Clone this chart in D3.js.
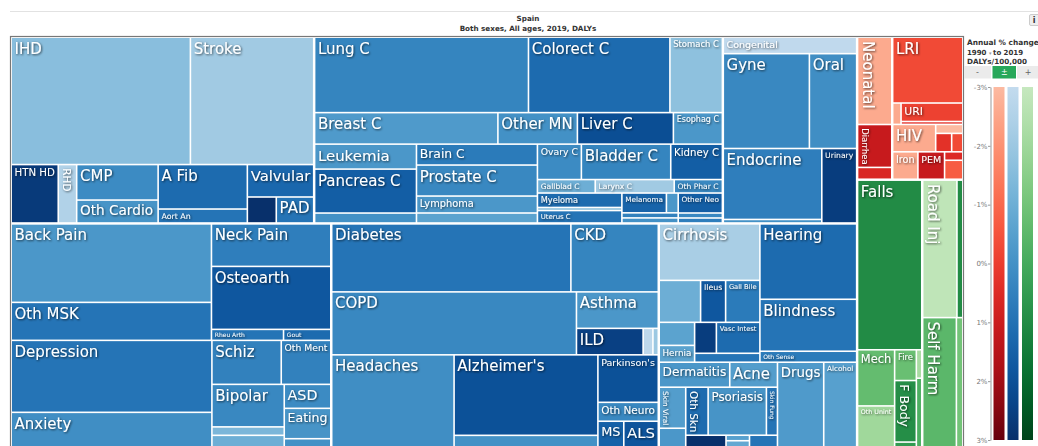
<!DOCTYPE html>
<html>
<head>
<meta charset="utf-8">
<script src="https://cdn.jsdelivr.net/npm/d3@7"></script>
<style>
body { margin: 0; background: #fff; font-family: "DejaVu Sans", Verdana, sans-serif; }
</style>
</head>
<body>
<svg id="chart" width="1038" height="446"></svg>
<script>
// layout groups of the treemap (each group splits its children one way, alternating by depth)
const groupIds = [
  "NCD", "CI", "ncdTop", "ncdBottom",
  "Cardio", "cvRow1", "cvRow2", "cvColCMP", "cvColAFib", "cvColValv", "cvValvRow",
  "Neoplasms", "neoRow1", "neoRow2", "neoRow3", "neoColA", "neoColB", "neoColC",
  "neoRowC1", "neoRowC2", "neoRowC3", "neoColMy", "neoColMel", "neoMelRow", "neoColON",
  "OtherNCD", "othRowGO", "othRowEU", "othColE",
  "ncdCol1", "ncdCol2", "ncdCol3",
  "MSK", "mskColBP", "mskColNO", "mskRowRG",
  "Mental", "mntColDA", "mntCol2", "mntRowSO", "mntRowB", "mntColBi", "mntColAE",
  "DiabKid", "ChronResp", "respColA", "respRowILD",
  "Neuro", "neuColAlz", "neuColP", "neuRowMA",
  "ncdRowDS", "Digestive", "digRow1", "digRow2", "digColH", "digColV", "digRowV", "Sense",
  "ncdRowSS", "Skin", "skinRow1", "skinRow2", "skinColSV", "skinColR", "skinRowOPS", "skinRowSm", "skinColPair",
  "Substance", "subRow",
  "Comm", "commCol1", "commCol2", "commRowURI", "commColU", "commRowHIV", "commColS", "commRowS", "commRowIron", "commColR",
  "Injuries", "injCol1", "injRowB", "injColMech", "injColFire", "injColT", "injCol2", "injRowRoad", "injRowSelf"
];
const groupParents = [
  "root", "root", "NCD", "NCD",
  "ncdTop", "Cardio", "Cardio", "cvRow2", "cvRow2", "cvRow2", "cvColValv",
  "ncdTop", "Neoplasms", "Neoplasms", "Neoplasms", "neoRow3", "neoRow3", "neoRow3",
  "neoColC", "neoColC", "neoColC", "neoRowC3", "neoRowC3", "neoColMel", "neoRowC3",
  "ncdTop", "OtherNCD", "OtherNCD", "othRowEU",
  "ncdBottom", "ncdBottom", "ncdBottom",
  "ncdCol1", "MSK", "MSK", "mskColNO",
  "ncdCol1", "Mental", "Mental", "mntCol2", "mntCol2", "mntRowB", "mntRowB",
  "ncdCol2", "ncdCol2", "ChronResp", "respColA",
  "ncdCol2", "Neuro", "Neuro", "neuColP",
  "ncdCol3", "ncdRowDS", "Digestive", "Digestive", "digRow2", "digRow2", "digColV", "ncdRowDS",
  "ncdCol3", "ncdRowSS", "Skin", "Skin", "skinRow2", "skinRow2", "skinColR", "skinColR", "skinRowSm",
  "ncdRowSS", "Substance",
  "CI", "Comm", "Comm", "commCol2", "commRowURI", "commCol2", "commRowHIV", "commColS", "commCol2", "commRowIron",
  "CI", "Injuries", "injCol1", "injRowB", "injRowB", "injRowB", "Injuries", "injCol2", "injCol2"
];

// causes, in layout order
const causes = [
  "IHD", "Stroke", "HTN HD", "RHD", "CMP", "Oth Cardio", "A Fib", "Aort An", "Valvular", "Endocarditis", "PAD",
  "Lung C", "Colorect C", "Stomach C", "Breast C", "Other MN", "Liver C", "Esophag C",
  "Leukemia", "Pancreas C", "Thyroid C", "Brain C", "Prostate C", "Lymphoma", "Hodgkin",
  "Ovary C", "Bladder C", "Kidney C", "Gallblad C", "Larynx C", "Oth Phar C",
  "Myeloma", "Testis C", "Uterus C", "Melanoma", "Mesothelioma", "NMSC", "Nasophar C", "Other Neo", "Eye C", "Bone C",
  "Congenital", "Gyne", "Oral", "Endocrine", "Hemoglob", "Urinary",
  "Back Pain", "Oth MSK", "Neck Pain", "Osteoarth", "Rheu Arth", "Gout",
  "Depression", "Anxiety", "Schiz", "Oth Ment", "Bipolar", "ADHD", "Conduct", "ASD", "Eating", "Idiop ID",
  "Diabetes", "CKD", "COPD", "Asthma", "ILD", "Pneumocon", "Oth Resp",
  "Headaches", "Alzheimer's", "Epilepsy", "Parkinson's", "Oth Neuro", "MS", "ALS",
  "Cirrhosis", "Pancreatitis", "Ileus", "Gall Bile", "Upper GI", "Hernia", "IBD", "Vasc Intest", "Oth Digest",
  "Hearing", "Blindness", "Oth Sense",
  "Dermatitis", "Acne", "Skin Viral", "Urticaria", "Oth Skn", "Psoriasis", "Skin Fung", "Decubitus", "Pruritus", "Alopecia", "Scabies",
  "Drugs", "Alcohol",
  "Neonatal", "Diarrhea", "Oth Intest", "LRI", "Otitis", "URI", "Meningitis", "HIV", "TB", "Hepatitis", "Encephalitis",
  "Iron", "PEM", "Oth Nutr", "Oth Infect",
  "Falls", "Mech", "Oth Unint", "Fire", "F Body", "Drowning", "Nat Disast", "Heat/Cold",
  "Road Inj", "Oth Transport", "Self Harm", "Violence"
];
const causeGroup = [
  "cvRow1", "cvRow1", "cvRow2", "cvRow2", "cvColCMP", "cvColCMP", "cvColAFib", "cvColAFib", "cvColValv", "cvValvRow", "cvValvRow",
  "neoRow1", "neoRow1", "neoRow1", "neoRow2", "neoRow2", "neoRow2", "neoRow2",
  "neoColA", "neoColA", "neoColA", "neoColB", "neoColB", "neoColB", "neoColB",
  "neoRowC1", "neoRowC1", "neoRowC1", "neoRowC2", "neoRowC2", "neoRowC2",
  "neoColMy", "neoColMy", "neoColMy", "neoMelRow", "neoMelRow", "neoColMel", "neoColMel", "neoColON", "neoColON", "neoColON",
  "OtherNCD", "othRowGO", "othRowGO", "othColE", "othColE", "othRowEU",
  "mskColBP", "mskColBP", "mskColNO", "mskColNO", "mskRowRG", "mskRowRG",
  "mntColDA", "mntColDA", "mntRowSO", "mntRowSO", "mntColBi", "mntColBi", "mntColBi", "mntColAE", "mntColAE", "mntColAE",
  "DiabKid", "DiabKid", "ChronResp", "respColA", "respRowILD", "respRowILD", "respRowILD",
  "Neuro", "neuColAlz", "neuColAlz", "neuColP", "neuColP", "neuRowMA", "neuRowMA",
  "Digestive", "digRow1", "digRow1", "digRow1", "digColH", "digColH", "digRowV", "digRowV", "digColV",
  "Sense", "Sense", "Sense",
  "skinRow1", "skinRow1", "skinColSV", "skinColSV", "skinRowOPS", "skinRowOPS", "skinRowOPS", "skinRowSm", "skinColPair", "skinColPair", "skinRowSm",
  "subRow", "subRow",
  "commCol1", "commCol1", "commCol1", "commCol2", "commRowURI", "commColU", "commColU", "commRowHIV", "commColS", "commRowS", "commRowS",
  "commRowIron", "commRowIron", "commColR", "commColR",
  "injCol1", "injColMech", "injColMech", "injColFire", "injColFire", "injColFire", "injColT", "injColT",
  "injRowRoad", "injRowRoad", "injRowSelf", "injRowSelf"
];
// DALYs per 100,000
const dalys = [
  1760, 1211, 212, 83, 223, 144, 306, 96, 166, 58, 75,
  1243, 822, 305, 445, 193, 233, 119,
  196, 345, 78, 195, 289, 158, 93,
  120, 244, 141, 60, 82, 50,
  94, 20, 81, 68, 18, 22, 22, 68, 17, 17,
  170, 632, 347, 541, 27, 201,
  1211, 586, 391, 579, 61, 40,
  1113, 533, 235, 168, 237, 47, 64, 86, 109, 29,
  1253, 458, 1187, 230, 136, 20, 11,
  867, 892, 127, 221, 88, 51, 68,
  439, 134, 81, 111, 63, 46, 52, 104, 45,
  563, 388, 82,
  136, 92, 84, 38, 83, 216, 41, 36, 10, 11, 25,
  302, 215,
  236, 116, 32, 360, 14, 89, 14, 92, 19, 23, 16,
  54, 57, 12, 27,
  848, 162, 118, 52, 104, 8, 12, 29,
  370, 63, 342, 65
];
// annual % change 1990 to 2019, DALYs/100,000
const pctChange = [
  -1.6, -2.1, 2.7, -2.5, 0.2, -0.1, 1.2, 0.9, 1.3, 3.0, 0.9,
  0.4, 1.2, -1.7, -0.3, 0.0, 2.1, -0.2,
  -0.2, 1.6, 0.0, 0.7, 0.3, -0.2, -0.6,
  0.2, 0.4, 1.6, -1.0, -2.1, 0.3,
  1.2, -1.5, 0.9, 1.4, -0.2, 0.5, 0.0, 1.6, 0.3, 0.6,
  -2.9, 0.3, 0.1, 0.6, 0.0, 2.6,
  -0.2, 0.9, 0.6, 1.8, 0.9, 1.2,
  0.9, 0.1, 0.5, 0.5, 0.3, -1.3, -1.0, 0.2, -0.1, 0.0,
  0.9, 0.4, 0.3, -0.2, 2.5, -2.8, -2.0,
  0.1, 2.0, 0.0, 2.0, 0.3, 1.5, 1.9,
  -2.3, -1.0, 1.8, 0.7, -0.6, -0.6, 2.6, 1.2, 0.9,
  1.2, 0.9, 0.7,
  -0.2, -0.4, -0.4, -0.2, 1.2, -0.1, 0.9, 3.0, -0.5, -0.8, 0.9,
  -0.3, -0.5,
  -2.6, 1.1, 0.6, -0.3, -2.6, -0.1, 0.3, -2.6, -3.0, 0.3, -0.3,
  -2.6, 1.1, 0.5, -0.7,
  1.0, -0.7, -2.0, -0.8, 0.9, 0.5, -2.2, -0.2,
  -2.8, 1.0, -0.5, -1.0
];
const verticalLabels = ["RHD", "Neonatal", "Diarrhea", "Road Inj", "Self Harm", "F Body", "Skin Viral", "Oth Skn", "Skin Fung"];
const unlabeled = [
  "Endocarditis", "Thyroid C", "Hodgkin", "Testis C", "Mesothelioma", "NMSC", "Nasophar C", "Eye C", "Bone C", "Hemoglob",
  "ADHD", "Conduct", "Idiop ID", "Pneumocon", "Oth Resp", "Epilepsy", "Pancreatitis", "Upper GI", "IBD", "Oth Digest",
  "Urticaria", "Decubitus", "Pruritus", "Alopecia", "Scabies", "Oth Intest", "Otitis", "Meningitis", "TB", "Hepatitis",
  "Encephalitis", "Oth Nutr", "Oth Infect", "Drowning", "Nat Disast", "Heat/Cold", "Oth Transport", "Violence"
];
const legendTicks = [-3, -2, -1, 0, 1, 2, 3];

const svg = d3.select("#chart");
const W = 1038;

// colour scales, one per cause family
const blues = d3.scaleSequential(t => d3.interpolateBlues(0.25 + 0.75 * t)).domain([-3, 3]);
const reds = d3.scaleSequential(t => d3.interpolateReds(0.25 + 0.75 * t)).domain([-3, 3]);
const greens = d3.scaleSequential(t => d3.interpolateGreens(0.25 + 0.75 * t)).domain([-3, 3]);
const familyColor = { NCD: blues, Comm: reds, Injuries: greens };

// build the nested table d3.hierarchy needs
const parentOf = new Map(groupIds.map((g, i) => [g, groupParents[i]]));
const nodes = new Map();
const rootData = { id: "root", children: [] };
nodes.set("root", rootData);
function getNode(id) {
  if (nodes.has(id)) return nodes.get(id);
  const n = { id: id, children: [] };
  nodes.set(id, n);
  getNode(parentOf.get(id)).children.push(n);
  return n;
}
causes.forEach((c, i) => {
  getNode(causeGroup[i]).children.push({ id: c, name: c, value: dalys[i], change: pctChange[i] });
});

const root = d3.hierarchy(rootData).sum(d => d.children ? 0 : d.value);

d3.treemap()
  .tile(d3.treemapSliceDice)
  .size([950, 408])
  .paddingInner(d => d.depth <= 2 ? 2.5 : 1.6)
  .round(false)(root);

// header
svg.append("line").attr("x1", 10).attr("x2", W).attr("y1", 11.5).attr("y2", 11.5)
  .attr("stroke", "#e2e2e2");
svg.append("text").attr("x", 528).attr("y", 21).attr("text-anchor", "middle")
  .attr("font-size", 7.2).attr("font-weight", "bold").attr("fill", "#333").text("Spain");
svg.append("text").attr("x", 528).attr("y", 30.5).attr("text-anchor", "middle")
  .attr("font-size", 7.2).attr("font-weight", "bold").attr("fill", "#333")
  .text("Both sexes, All ages, 2019, DALYs");
svg.append("rect").attr("x", 1029.5).attr("y", 14.5).attr("width", 10).attr("height", 11)
  .attr("rx", 1.5).attr("fill", "#eee").attr("stroke", "#ccc");
svg.append("text").attr("x", 1034).attr("y", 23).attr("text-anchor", "middle")
  .attr("font-size", 8).attr("font-weight", "bold").attr("fill", "#333").text("i");

// text shadow
const defs = svg.append("defs");
defs.append("filter").attr("id", "shadow").attr("x", "-20%").attr("y", "-20%")
  .attr("width", "140%").attr("height", "140%")
  .append("feDropShadow").attr("dx", 0.9).attr("dy", 0.9).attr("stdDeviation", 0.8)
  .attr("flood-color", "#000").attr("flood-opacity", 0.7);

// treemap border
svg.append("rect").attr("x", 10.5).attr("y", 36.5).attr("width", 953).attr("height", 420)
  .attr("fill", "#fff").attr("stroke", "#777").attr("stroke-width", 1.2);

const g = svg.append("g").attr("transform", "translate(12,38)");

function familyOf(d) {
  return d.ancestors().find(a => familyColor[a.data.id]).data.id;
}

const leaves = root.leaves();
g.selectAll("rect.cell")
  .data(leaves)
  .join("rect")
  .attr("class", "cell")
  .attr("x", d => d.x0)
  .attr("y", d => d.y0)
  .attr("width", d => Math.max(0, d.x1 - d.x0))
  .attr("height", d => Math.max(0, d.y1 - d.y0))
  .attr("fill", d => familyColor[familyOf(d)](d.data.change));

// labels
const measure = svg.append("text").attr("font-size", 10).attr("visibility", "hidden");
function textLen(s) {
  measure.text(s);
  return measure.node().getComputedTextLength();
}

const labels = g.append("g").attr("filter", "url(#shadow)")
  .attr("fill", "#fff");

leaves.forEach(d => {
  const name = d.data.name;
  if (unlabeled.includes(name)) return;
  const w = d.x1 - d.x0, h = d.y1 - d.y0;
  const len = textLen(name);
  if (verticalLabels.includes(name)) {
    const size = Math.min(15, (h - 5) / len * 10, w * 0.62);
    if (size < 5) return;
    labels.append("text")
      .attr("transform", `translate(${d.x0 + 2 + size * 0.18},${d.y0 + 3}) rotate(90)`)
      .attr("font-size", size)
      .text(name);
  } else {
    const size = Math.min(15, (w - 5) / len * 10, h * 0.64);
    if (size < 5) return;
    labels.append("text")
      .attr("x", d.x0 + 2.5)
      .attr("y", d.y0 + size * 0.98 + 1)
      .attr("font-size", size)
      .text(name);
  }
});
measure.remove();

// legend
const legend = svg.append("g");
legend.append("text").attr("x", 967).attr("y", 45).attr("font-size", 7.4)
  .attr("font-weight", "bold").attr("fill", "#333").text("Annual % change");
const yearLine = legend.append("text").attr("x", 967).attr("y", 54.5).attr("font-size", 7)
  .attr("font-weight", "bold").attr("fill", "#333");
yearLine.append("tspan").text("1990 ");
yearLine.append("tspan").attr("font-size", 5).attr("font-weight", "normal").attr("fill", "#999").text("\u25BE ");
yearLine.append("tspan").text("to 2019");
legend.append("text").attr("x", 997).attr("y", 64).attr("text-anchor", "middle").attr("font-size", 7.2)
  .attr("font-weight", "bold").attr("fill", "#333").text("DALYs/100,000");

const buttons = [
  { label: "-", x: 964, w: 27, on: false },
  { label: "\u00B1", x: 992.5, w: 23.5, on: true },
  { label: "+", x: 1017, w: 22, on: false }
];
buttons.forEach(b => {
  legend.append("rect").attr("x", b.x).attr("y", 66).attr("width", b.w).attr("height", 12.5)
    .attr("fill", b.on ? "#27a85a" : "#ebebeb");
  legend.append("text").attr("x", b.x + b.w / 2).attr("y", 75).attr("text-anchor", "middle")
    .attr("font-size", 8).attr("fill", b.on ? "#fff" : "#666").text(b.label);
});

const ly = d3.scaleLinear().domain([-3, 3]).range([87, 440]);
const bars = [
  { id: "gradRed", scale: reds, x: 993.5 },
  { id: "gradBlue", scale: blues, x: 1007.5 },
  { id: "gradGreen", scale: greens, x: 1022 }
];
bars.forEach(b => {
  const grad = defs.append("linearGradient").attr("id", b.id)
    .attr("x1", 0).attr("x2", 0).attr("y1", 0).attr("y2", 1);
  d3.range(0, 1.0001, 0.1).forEach(t => {
    grad.append("stop").attr("offset", t).attr("stop-color", b.scale(-3 + 6 * t));
  });
  legend.append("rect").attr("x", b.x).attr("y", ly(-3)).attr("width", 11)
    .attr("height", ly(3) - ly(-3)).attr("fill", `url(#${b.id})`);
});

const axis = legend.append("g").attr("transform", "translate(990.5,0)")
  .call(d3.axisLeft(ly).tickValues(legendTicks).tickSize(2.5).tickSizeOuter(0)
    .tickFormat(d => d + "%"));
axis.select(".domain").attr("stroke", "#999");
axis.selectAll(".tick line").attr("stroke", "#999");
axis.selectAll(".tick text").attr("font-size", 7).attr("fill", "#777")
  .attr("font-family", "DejaVu Sans, sans-serif").attr("x", -3);
</script>
</body>
</html>
